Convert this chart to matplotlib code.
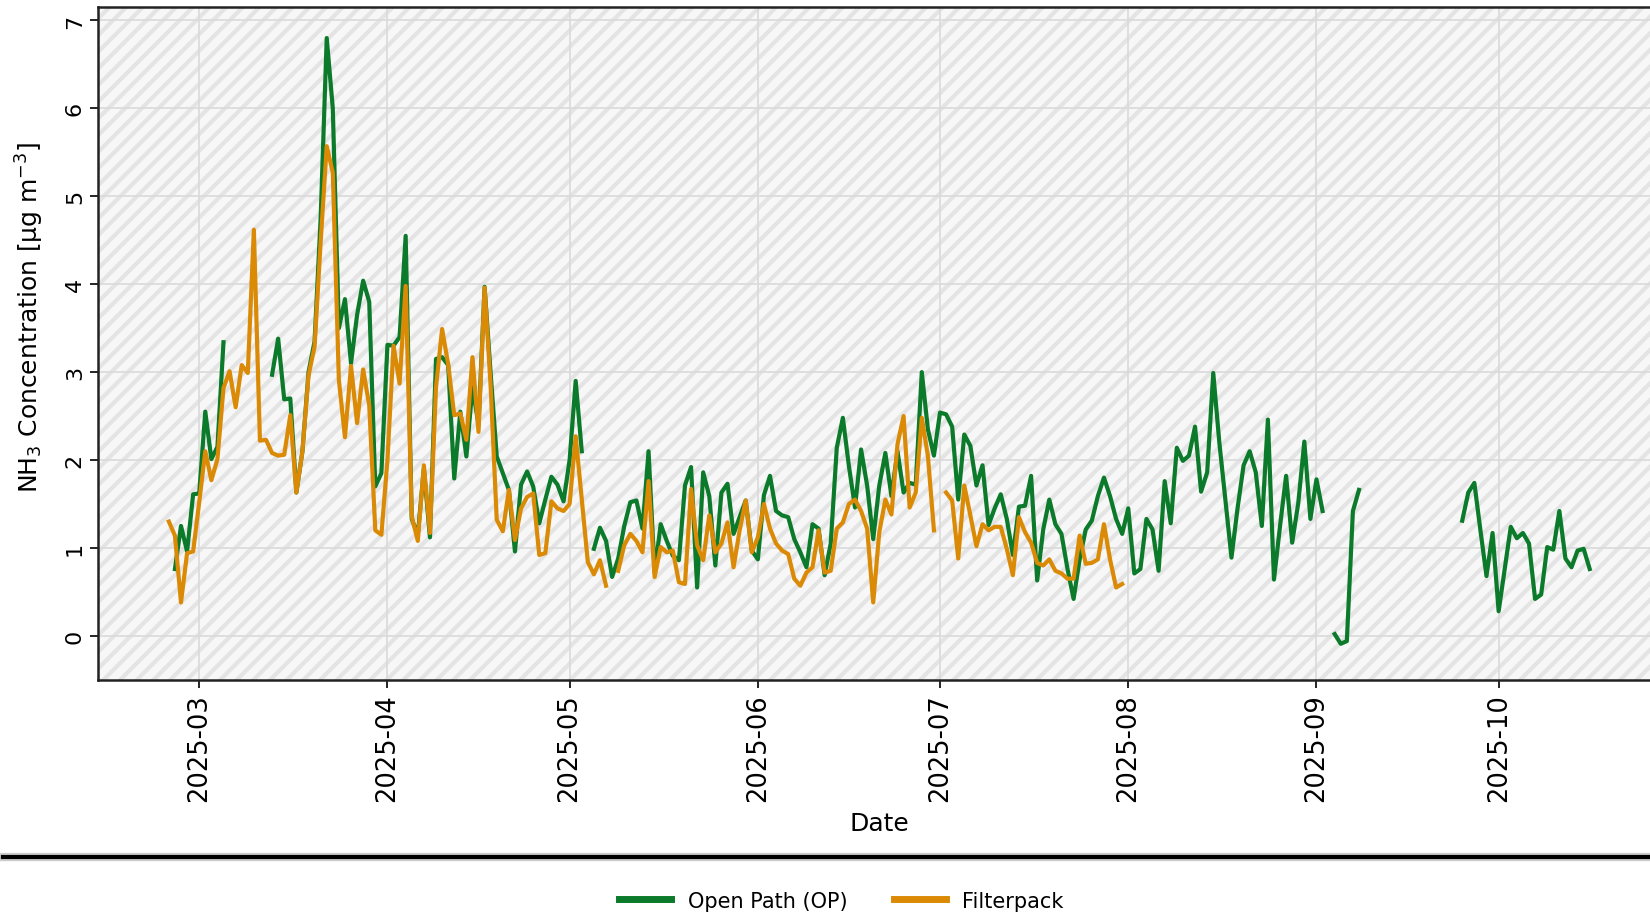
import numpy as np
import pandas as pd
import matplotlib
matplotlib.use('Agg')
import matplotlib.pyplot as plt
import matplotlib.dates as mdates
from matplotlib.patches import Rectangle
from matplotlib.lines import Line2D

nan = np.nan

# Open Path (OP), daily values from 2025-02-25
op_feb = [0.76, 1.25, 0.96, 1.61]
op_mar = [1.62, 2.55, 2.01, 2.15, 3.34, nan, nan, nan, nan, nan, nan, nan,
          2.97, 3.38, 2.69, 2.70, 1.63, 2.10, 3.00, 3.35, 4.75, 6.80, 6.00,
          3.50, 3.83, 3.10, 3.65, 4.04, 3.80, 1.70, 1.85]
op_apr = [3.31, 3.30, 3.40, 4.55, 1.33, 1.15, 1.90, 1.12, 3.15, 3.17,
          3.08, 1.79, 2.55, 2.04, 2.83, 2.40, 3.97, 2.98, 2.04, 1.85,
          1.66, 0.96, 1.72, 1.87, 1.70, 1.28, 1.55, 1.81, 1.72, 1.53]
op_may = [2.00, 2.90, 2.10, nan, 0.99, 1.23, 1.08, 0.67, 0.88, 1.25,
          1.52, 1.54, 1.22, 2.10, 0.72, 1.27, 1.08, 0.91, 0.86, 1.71,
          1.92, 0.55, 1.86, 1.59, 0.80, 1.63, 1.73, 1.16, 1.35, 1.54, 0.97]
op_jun = [0.87, 1.60, 1.82, 1.42, 1.37, 1.35, 1.10, 0.95, 0.78, 1.27,
          1.22, 0.69, 1.05, 2.14, 2.48, 1.93, 1.46, 2.12, 1.71, 1.10,
          1.71, 2.08, 1.59, 2.10, 1.63, 1.74, 1.72, 3.00, 2.35, 2.05]
op_jul = [2.54, 2.52, 2.38, 1.55, 2.29, 2.16, 1.71, 1.94, 1.26, 1.45,
          1.61, 1.33, 0.92, 1.47, 1.48, 1.82, 0.63, 1.21, 1.55, 1.27,
          1.16, 0.76, 0.42, 0.87, 1.21, 1.31, 1.59, 1.80, 1.59, 1.33, 1.16]
op_aug = [1.45, 0.71, 0.76, 1.33, 1.21, 0.74, 1.76, 1.28, 2.14, 1.99,
          2.05, 2.38, 1.64, 1.86, 2.99, 2.20, 1.55, 0.89, 1.45, 1.94,
          2.10, 1.86, 1.25, 2.46, 0.64, 1.25, 1.82, 1.06, 1.51, 2.21, 1.33]
op_sep = [1.78, 1.42, nan, 0.02, -0.09, -0.06, 1.42, 1.66,
          nan, nan, nan, nan, nan, nan, nan, nan,
          nan, nan, nan, nan, nan, nan, nan, nan,
          1.31, 1.63, 1.74, 1.20, 0.68, 1.17]
op_oct = [0.28, 0.76, 1.24, 1.11, 1.17, 1.05, 0.42, 0.47, 1.01, 0.98,
          1.42, 0.88, 0.78, 0.97, 0.99, 0.76]

# Filterpack, daily values from 2025-02-24
fp_feb = [1.30, 1.14, 0.38, 0.94, 0.96]
fp_mar = [1.52, 2.10, 1.77, 2.01, 2.82, 3.01, 2.60, 3.08, 2.99, 4.62,
          2.22, 2.23, 2.08, 2.05, 2.06, 2.51, 1.63, 2.10, 2.96, 3.29,
          4.48, 5.57, 5.27, 2.91, 2.26, 3.07, 2.42, 3.03, 2.62, 1.20, 1.15]
fp_apr = [2.00, 3.30, 2.87, 3.98, 1.36, 1.08, 1.94, 1.17, 2.83, 3.49,
          3.09, 2.51, 2.53, 2.23, 3.17, 2.32, 3.96, 2.83, 1.32, 1.19,
          1.66, 1.09, 1.45, 1.58, 1.62, 0.92, 0.94, 1.53, 1.45, 1.42]
fp_may = [1.50, 2.27, 1.55, 0.84, 0.70, 0.86, 0.57, nan, 0.74, 1.03,
          1.16, 1.08, 0.95, 1.76, 0.67, 1.01, 0.95, 0.97, 0.61, 0.59,
          1.67, 1.03, 0.86, 1.37, 0.95, 1.05, 1.29, 0.78, 1.20, 1.54, 0.95]
fp_jun = [1.12, 1.50, 1.22, 1.05, 0.97, 0.93, 0.65, 0.57, 0.72, 0.78,
          1.20, 0.72, 0.74, 1.22, 1.29, 1.50, 1.55, 1.42, 1.22, 0.38,
          1.18, 1.55, 1.38, 2.18, 2.50, 1.46, 1.63, 2.48, 2.05, 1.20]
fp_jul = [nan, 1.63, 1.54, 0.88, 1.71, 1.37, 1.02, 1.27, 1.20, 1.24,
          1.24, 0.99, 0.69, 1.35, 1.18, 1.06, 0.83, 0.80, 0.87, 0.74,
          0.71, 0.65, 0.65, 1.14, 0.82, 0.83, 0.87, 1.27, 0.87, 0.55, 0.59]

labels = ['Open Path (OP)', 'Filterpack']
colors = ['#0b7a2a', '#db8a06']


def main():

    op = np.array(op_feb + op_mar + op_apr + op_may + op_jun + op_jul
                  + op_aug + op_sep + op_oct, dtype=float)
    fp = np.array(fp_feb + fp_mar + fp_apr + fp_may + fp_jun + fp_jul,
                  dtype=float)
    op_dates = pd.date_range('2025-02-25', periods=len(op), freq='D')
    fp_dates = pd.date_range('2025-02-24', periods=len(fp), freq='D')

    plt.rcParams['hatch.linewidth'] = 3.0
    fig = plt.figure(figsize=(16.5, 9.2), dpi=100)
    ax = fig.add_axes([0.0594, 0.26, 0.947, 0.731])

    # hatched background
    ax.set_facecolor('white')
    ax.add_patch(Rectangle((0, 0), 1, 1, transform=ax.transAxes,
                           facecolor='#f7f7f7', edgecolor='#e4e4e4',
                           hatch='//', linewidth=0, zorder=0))
    ax.set_axisbelow(True)
    ax.grid(True, color='#dadada', linewidth=1.2)

    ax.plot(op_dates, op, color=colors[0], linewidth=3.0, label=labels[0])
    ax.plot(fp_dates, fp, color=colors[1], linewidth=3.0, label=labels[1])

    ax.set_ylim(-0.5, 7.15)
    ax.set_xlim(pd.Timestamp('2025-02-12 08:00'), pd.Timestamp('2025-10-27 16:00'))
    ax.xaxis.set_major_locator(mdates.MonthLocator())
    ax.xaxis.set_major_formatter(mdates.DateFormatter('%Y-%m'))
    ax.tick_params(axis='x', labelrotation=90, labelsize=18.5, length=6, width=1.2)
    ax.tick_params(axis='y', labelrotation=90, labelsize=16, length=6, width=1.2)
    for t in ax.get_yticklabels():
        t.set_verticalalignment('center')

    for s in ax.spines.values():
        s.set_linewidth(1.8)
        s.set_color('#222222')

    ax.set_ylabel('NH$_3$ Concentration [µg m$^{-3}$]', fontsize=18)
    ax.yaxis.set_label_coords(-0.033, 0.54)
    ax.set_xlabel('Date', fontsize=18, labelpad=7)

    # separator line across the figure
    fig.add_artist(Line2D([0.002, 1.0], [0.0675, 0.0675], transform=fig.transFigure,
                          color='#cccccc', linewidth=6))
    fig.add_artist(Line2D([0.002, 1.0], [0.0675, 0.0675], transform=fig.transFigure,
                          color='black', linewidth=3))

    handles = [Line2D([], [], color=c, linewidth=5) for c in colors]
    fig.legend(handles, labels, loc='center', bbox_to_anchor=(0.51, 0.02),
               ncol=2, frameon=False, fontsize=15, handlelength=2.5,
               columnspacing=2.2)

    fig.savefig('out.png', dpi=100)


if __name__ == '__main__':

    main()
